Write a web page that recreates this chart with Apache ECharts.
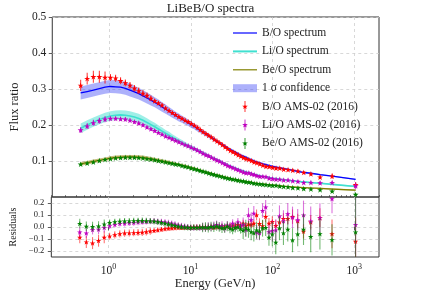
<!DOCTYPE html>
<html><head><meta charset="utf-8">
<script src="https://cdn.jsdelivr.net/npm/echarts@6/dist/echarts.min.js"></script>
<style>html,body{margin:0;padding:0;background:#fff}#c{width:421px;height:295px}</style>
</head><body><div id="c"></div>
<script>
// Energy (GeV/n) of the AMS-02 bins
const energy = [0.445,0.535,0.637,0.754,0.885,1.030,1.192,1.371,1.569,1.788,
  2.028,2.290,2.576,2.887,3.225,3.591,3.987,4.415,4.883,5.377,
  5.897,6.466,7.086,7.756,8.476,9.246,10.07,10.97,11.94,12.96,
  14.05,15.23,16.48,17.82,19.27,20.82,22.46,24.24,26.13,28.16,
  30.33,32.68,35.20,37.89,40.80,43.93,47.30,51.04,55.04,59.29,
  64.03,69.51,75.76,82.74,90.72,99.7,109.9,121.9,136.3,154.0,
  175.9,203.5,239.6,293.4,380.1,533.9,1034.7];

// B/O
const boData = [0.310,0.329,0.334,0.334,0.332,0.332,0.330,0.323,0.317,0.310,
  0.302,0.295,0.288,0.282,0.274,0.267,0.261,0.255,0.247,0.240,
  0.234,0.229,0.223,0.218,0.213,0.209,0.204,0.199,0.193,0.187,
  0.181,0.176,0.171,0.166,0.160,0.155,0.150,0.145,0.139,0.134,
  0.129,0.125,0.121,0.117,0.113,0.109,0.106,0.104,0.101,0.097,
  0.095,0.092,0.088,0.085,0.084,0.082,0.080,0.080,0.077,0.076,
  0.074,0.072,0.068,0.064,0.055,0.058,0.034];
const boModel = [0.289,0.293,0.297,0.301,0.305,0.307,0.306,0.305,0.302,0.297,
  0.292,0.287,0.281,0.275,0.269,0.263,0.257,0.250,0.244,0.238,
  0.232,0.226,0.221,0.216,0.211,0.206,0.201,0.196,0.190,0.185,
  0.180,0.175,0.170,0.165,0.160,0.155,0.150,0.145,0.141,0.136,
  0.132,0.128,0.124,0.120,0.116,0.113,0.110,0.106,0.103,0.100,
  0.097,0.095,0.092,0.090,0.087,0.085,0.083,0.081,0.079,0.077,
  0.074,0.071,0.068,0.066,0.062,0.058,0.049];
const boSigma = [0.018,0.018,0.018,0.018,0.018,0.018,0.018,0.018,0.018,0.018,
  0.017,0.016,0.016,0.015,0.015,0.014,0.014,0.013,0.013,0.012,
  0.012,0.011,0.011,0.010,0.010,0.009,0.009,0.008,0.008,0.007,
  0.007,0.007,0.006,0.006,0.006,0.005,0.005,0.005,0.005,0.004,
  0.004,0.004,0.004,0.004,0.004,0.004,0.004,0.004,0.004,0.004,
  0.003,0.003,0.003,0.003,0.003,0.003,0.003,0.003,0.003,0.003,
  0.003,0.003,0.002,0.002,0.002,0.002,0.002];
const boRes = [-0.086,-0.125,-0.134,-0.114,-0.086,-0.077,-0.065,-0.057,-0.051,-0.050,
  -0.048,-0.046,-0.044,-0.040,-0.035,-0.030,-0.025,-0.020,-0.015,-0.012,
  -0.010,-0.008,-0.006,-0.005,-0.004,-0.003,-0.004,-0.002,0.000,-0.002,
  0.001,-0.003,0.000,0.002,-0.004,0.003,0.000,0.005,-0.003,0.010,
  0.004,0.015,0.008,0.020,0.012,0.030,0.010,0.025,0.020,0.030,
  0.100,0.028,0.010,0.086,0.030,0.045,0.012,0.040,0.070,0.070,
  0.086,0.050,-0.037,0.040,0.077,-0.057,-0.120];
const boRelErr = [0.05,0.05,0.05,0.05,0.05,0.03,0.03,0.03,0.03,0.03,
  0.03,0.03,0.03,0.03,0.03,0.02,0.02,0.02,0.02,0.02,
  0.02,0.02,0.02,0.02,0.02,0.02,0.02,0.02,0.02,0.02,
  0.02,0.02,0.02,0.02,0.02,0.02,0.02,0.02,0.02,0.02,
  0.03,0.03,0.03,0.03,0.03,0.03,0.03,0.03,0.03,0.03,
  0.045,0.045,0.045,0.045,0.045,0.045,0.045,0.045,0.045,0.045,
  0.06,0.06,0.06,0.06,0.08,0.12,0.2];

// Li/O
const liData = [0.186,0.197,0.206,0.212,0.216,0.218,0.218,0.217,0.216,0.213,
  0.209,0.205,0.200,0.194,0.189,0.184,0.179,0.174,0.169,0.165,
  0.161,0.157,0.153,0.149,0.145,0.142,0.138,0.134,0.130,0.126,
  0.121,0.117,0.114,0.110,0.106,0.102,0.099,0.095,0.091,0.087,
  0.084,0.081,0.078,0.075,0.072,0.069,0.067,0.067,0.064,0.062,
  0.059,0.057,0.057,0.056,0.052,0.051,0.049,0.049,0.047,0.047,
  0.045,0.043,0.040,0.040,0.039,0.040,0.031];
const liModel = [0.191,0.200,0.208,0.215,0.221,0.225,0.227,0.228,0.227,0.225,
  0.222,0.218,0.213,0.207,0.201,0.195,0.189,0.183,0.177,0.172,
  0.166,0.161,0.156,0.151,0.146,0.142,0.138,0.134,0.130,0.126,
  0.122,0.118,0.114,0.110,0.107,0.103,0.100,0.096,0.093,0.089,
  0.086,0.083,0.080,0.077,0.074,0.072,0.069,0.067,0.065,0.063,
  0.061,0.059,0.057,0.056,0.054,0.052,0.051,0.049,0.048,0.046,
  0.045,0.043,0.042,0.040,0.038,0.035,0.029];
const liSigma = [0.013,0.013,0.013,0.013,0.013,0.013,0.013,0.013,0.013,0.013,
  0.013,0.013,0.012,0.012,0.011,0.011,0.010,0.010,0.009,0.009,
  0.008,0.008,0.007,0.007,0.007,0.006,0.006,0.006,0.005,0.005,
  0.005,0.005,0.004,0.004,0.004,0.004,0.004,0.003,0.003,0.003,
  0.003,0.003,0.003,0.003,0.003,0.003,0.003,0.003,0.003,0.003,
  0.002,0.002,0.002,0.002,0.002,0.002,0.002,0.002,0.002,0.002,
  0.002,0.002,0.002,0.002,0.002,0.002,0.002];
const liRes = [-0.043,-0.051,-0.022,-0.019,-0.005,0.009,0.020,0.029,0.030,0.034,
  0.036,0.040,0.043,0.045,0.048,0.050,0.046,0.044,0.040,0.035,
  0.030,0.022,0.015,0.010,0.005,0.000,-0.004,-0.006,-0.002,-0.006,
  0.000,-0.004,0.004,0.000,0.010,0.020,0.005,0.012,-0.010,0.015,
  0.005,0.030,0.000,0.040,0.010,0.020,-0.022,0.100,0.060,0.114,
  -0.043,-0.050,0.137,0.166,-0.040,-0.030,-0.025,0.090,0.050,0.109,
  0.080,0.060,0.100,0.050,0.077,0.235,0.020];
const liRelErr = [0.04,0.04,0.04,0.04,0.04,0.025,0.025,0.025,0.025,0.025,
  0.025,0.025,0.025,0.025,0.025,0.025,0.025,0.025,0.025,0.025,
  0.025,0.025,0.025,0.025,0.025,0.025,0.025,0.025,0.025,0.025,
  0.035,0.035,0.035,0.035,0.035,0.035,0.035,0.035,0.035,0.035,
  0.035,0.035,0.035,0.035,0.035,0.06,0.06,0.06,0.06,0.06,
  0.06,0.06,0.06,0.06,0.06,0.09,0.09,0.09,0.09,0.09,
  0.09,0.09,0.12,0.12,0.12,0.12,0.3];

// Be/O
const beData = [0.091,0.094,0.097,0.101,0.104,0.106,0.108,0.109,0.110,0.110,
  0.110,0.109,0.108,0.106,0.105,0.103,0.101,0.099,0.097,0.095,
  0.093,0.091,0.090,0.087,0.085,0.083,0.080,0.078,0.076,0.073,
  0.071,0.069,0.066,0.064,0.062,0.060,0.058,0.056,0.054,0.052,
  0.051,0.049,0.048,0.046,0.045,0.044,0.042,0.041,0.040,0.038,
  0.037,0.036,0.035,0.034,0.033,0.032,0.032,0.030,0.029,0.028,
  0.026,0.025,0.023,0.022,0.020,0.016,0.007];
const beModel = [0.092,0.095,0.099,0.102,0.105,0.108,0.110,0.111,0.112,0.112,
  0.112,0.111,0.110,0.108,0.106,0.104,0.102,0.100,0.098,0.096,
  0.094,0.092,0.090,0.088,0.086,0.083,0.081,0.079,0.076,0.074,
  0.072,0.069,0.067,0.065,0.063,0.061,0.059,0.057,0.055,0.053,
  0.052,0.050,0.049,0.047,0.046,0.044,0.043,0.042,0.041,0.039,
  0.038,0.037,0.036,0.035,0.034,0.033,0.032,0.031,0.030,0.029,
  0.028,0.027,0.026,0.025,0.024,0.022,0.019];
const beSigma = [0.005,0.005,0.005,0.005,0.005,0.005,0.005,0.005,0.005,0.005,
  0.005,0.005,0.005,0.005,0.005,0.005,0.005,0.005,0.005,0.005,
  0.004,0.004,0.004,0.004,0.004,0.004,0.004,0.004,0.004,0.004,
  0.003,0.003,0.003,0.003,0.003,0.003,0.003,0.003,0.003,0.003,
  0.002,0.002,0.002,0.002,0.002,0.002,0.002,0.002,0.002,0.002,
  0.002,0.002,0.002,0.002,0.002,0.002,0.002,0.002,0.002,0.002,
  0.002,0.002,0.002,0.002,0.002,0.002,0.002];
const beRes = [0.029,0.006,0.004,0.008,0.023,0.037,0.043,0.047,0.049,0.050,
  0.052,0.053,0.054,0.052,0.050,0.046,0.042,0.036,0.030,0.024,
  0.018,0.012,0.006,0.002,-0.002,-0.004,-0.005,-0.003,-0.006,-0.002,
  -0.004,0.000,-0.005,0.003,-0.002,0.008,0.000,-0.010,-0.008,0.005,
  -0.012,-0.020,-0.005,0.000,-0.015,-0.029,-0.010,-0.020,-0.040,-0.050,
  -0.025,-0.035,-0.010,-0.005,-0.086,-0.060,-0.128,-0.010,-0.050,-0.020,
  -0.110,-0.060,-0.020,-0.080,-0.057,-0.108,-0.043];
const beRelErr = [0.04,0.04,0.04,0.04,0.04,0.025,0.025,0.025,0.025,0.025,
  0.025,0.025,0.025,0.025,0.025,0.025,0.025,0.025,0.025,0.025,
  0.025,0.025,0.025,0.025,0.025,0.025,0.025,0.025,0.025,0.025,
  0.04,0.04,0.04,0.04,0.04,0.04,0.04,0.04,0.04,0.04,
  0.04,0.04,0.04,0.04,0.04,0.07,0.07,0.07,0.07,0.07,
  0.07,0.07,0.07,0.07,0.07,0.1,0.1,0.1,0.1,0.1,
  0.1,0.1,0.13,0.13,0.13,0.13,0.5];

const xMajorTicks = [1, 10, 100, 1000];
const yMainTicks = [0.1, 0.2, 0.3, 0.4, 0.5];
const yResTicks = [-0.2, -0.1, 0, 0.1, 0.2];

const FONT = "'Liberation Serif','DejaVu Serif',serif";
const TXT = '#222';
const STAR = 'M0,-10 L2.23,-3.07 L9.51,-3.09 L3.61,1.17 L5.88,8.09 L0,3.8 L-5.88,8.09 L-3.61,1.17 L-9.51,-3.09 L-2.23,-3.07 Z';
const ANCH = ' M0,0 L0,0 M24,12 L24,12';
const ICON_LINE = 'path://M0,5.4 L24,5.4 L24,6.6 L0,6.6 Z' + ANCH;
const ICON_THICK = 'path://M0,5 L24,5 L24,7 L0,7 Z' + ANCH;
const ICON_PATCH = 'path://M0,2 L24,2 L24,10 L0,10 Z' + ANCH;
const ICON_ERR = 'path://M12,3 L12.705,5.029 L14.853,5.073 L13.141,6.371 L13.763,8.427 L12,7.2 L10.237,8.427 L10.859,6.371 L9.147,5.073 L11.295,5.029 Z M11.6,0.5 L12.4,0.5 L12.4,11.5 L11.6,11.5 Z' + ANCH;

const minorTicks = [];
[0.1, 1, 10, 100, 1000].forEach(d => { for (let k = 2; k <= 9; k++) { const v = +(d * k).toPrecision(3); if (v >= 0.2 && v <= 2000) minorTicks.push(v); } });

function bandSeries(name, model, sigma, fill) {
  return {
    type: 'custom', name, xAxisIndex: 0, yAxisIndex: 0, clip: true, z: 1,
    itemStyle: { color: fill },
    data: energy.map((e, i) => [e, model[i] - sigma[i], model[i] + sigma[i]]),
    encode: { x: 0, y: [1, 2] },
    renderItem(params, api) {
      if (params.dataIndex !== 0) return null;
      const pts = [];
      for (let i = 0; i < energy.length; i++) pts.push(api.coord([energy[i], model[i] + sigma[i]]));
      for (let i = energy.length - 1; i >= 0; i--) pts.push(api.coord([energy[i], model[i] - sigma[i]]));
      return { type: 'polygon', shape: { points: pts }, style: { fill } };
    }
  };
}
function lineSeries(name, model, color, width) {
  return {
    type: 'custom', name, xAxisIndex: 0, yAxisIndex: 0, clip: true, z: 2,
    itemStyle: { color },
    data: energy.map((e, i) => [e, model[i]]),
    encode: { x: 0, y: 1 },
    renderItem(params, api) {
      if (params.dataIndex !== 0) return null;
      const pts = energy.map((e, i) => api.coord([e, model[i]]));
      return { type: 'polyline', shape: { points: pts }, style: { stroke: color, lineWidth: width, fill: null } };
    }
  };
}
function errSeries(name, axis, vals, errs, color, barColor, size) {
  return {
    type: 'custom', name, xAxisIndex: axis, yAxisIndex: axis, clip: true, z: 3,
    itemStyle: { color },
    data: energy.map((e, i) => [e, vals[i], errs[i]]),
    encode: { x: 0, y: 1 },
    renderItem(params, api) {
      const x = api.value(0), y = api.value(1), e = api.value(2);
      const p = api.coord([x, y]), t = api.coord([x, y + e]), b = api.coord([x, y - e]);
      return { type: 'group', children: [
        { type: 'line', shape: { x1: p[0], y1: t[1], x2: p[0], y2: b[1] }, style: { stroke: barColor, lineWidth: 1.1 } },
        { type: 'path', shape: { pathData: STAR, layout: 'center', x: p[0] - size / 2, y: p[1] - size / 2, width: size, height: size }, style: { fill: color } }
      ] };
    }
  };
}

const boErr = boData.map((v, i) => v * boRelErr[i]);
const liErr = liData.map((v, i) => v * liRelErr[i]);
const beErr = beData.map((v, i) => v * beRelErr[i]);

const C_RED = '#ff0000', C_MAG = '#c000c0', C_GRN = '#008000';
const gridLine = { show: true, lineStyle: { color: '#cfcfcf', type: [3, 3], width: 0.8 } };
const tickStyle = { color: '#333', width: 0.8 };

function xAxisMain(grid, labels) {
  return {
    gridIndex: grid, type: 'log', logBase: 10, min: 0.2, max: 2000,
    axisLine: { show: false },
    axisTick: { show: labels, length: 3.5, customValues: xMajorTicks, lineStyle: tickStyle },
    axisLabel: { show: labels, customValues: xMajorTicks, margin: 6,
      formatter: v => '{b|10}{s|' + Math.round(Math.log10(v)) + '}',
      rich: { b: { fontSize: 11.5, fontFamily: FONT, color: TXT },
              s: { fontSize: 8, fontFamily: FONT, color: TXT, padding: [0, 0, 7, 0] } } },
    splitLine: gridLine,
    name: labels ? 'Energy (GeV/n)' : '', nameLocation: 'middle', nameGap: 18,
    nameTextStyle: { fontSize: 12.5, fontFamily: FONT, color: TXT }
  };
}
function xAxisMinor(grid) {
  return {
    gridIndex: grid, type: 'log', logBase: 10, min: 0.2, max: 2000,
    axisLine: { show: false }, axisLabel: { show: false }, splitLine: { show: false },
    axisTick: { show: grid === 1, length: 2, customValues: minorTicks, lineStyle: { color: '#333', width: 0.6 } }
  };
}

const option = {
  animation: false,
  backgroundColor: '#fff',
  title: { text: 'LiBeB/O spectra', left: 'center', top: 2, padding: 0,
    textStyle: { fontSize: 13, fontWeight: 'normal', fontFamily: FONT, color: TXT } },
  legend: {
    orient: 'vertical', left: 233, top: 27, padding: 0, itemWidth: 24, itemHeight: 12, itemGap: 6.4,
    selectedMode: false,
    textStyle: { fontSize: 11.5, fontFamily: FONT, color: TXT },
    data: [
      { name: 'B/O spectrum', icon: ICON_LINE, itemStyle: { color: '#0000ff' } },
      { name: 'Li/O spectrum', icon: ICON_THICK, itemStyle: { color: '#40e0d0' } },
      { name: 'Be/O spectrum', icon: ICON_LINE, itemStyle: { color: '#808000' } },
      { name: '1 σ confidence', icon: ICON_PATCH, itemStyle: { color: 'rgba(60,70,245,0.42)' } },
      { name: 'B/O AMS-02 (2016)', icon: ICON_ERR, itemStyle: { color: C_RED } },
      { name: 'Li/O AMS-02 (2016)', icon: ICON_ERR, itemStyle: { color: C_MAG } },
      { name: 'Be/O AMS-02 (2016)', icon: ICON_ERR, itemStyle: { color: C_GRN } }
    ]
  },
  grid: [
    { left: 42, top: 17, width: 337, height: 180, show: true, borderColor: '#333', borderWidth: 1, backgroundColor: 'transparent' },
    { left: 42, top: 197, width: 337, height: 60, show: true, borderColor: '#333', borderWidth: 1, backgroundColor: 'transparent' }
  ],
  xAxis: [xAxisMain(0, false), xAxisMain(1, true), xAxisMinor(0), xAxisMinor(1)],
  yAxis: [
    { gridIndex: 0, type: 'value', min: 0, max: 0.5,
      axisLine: { show: false },
      axisTick: { show: true, length: 3.5, customValues: yMainTicks, lineStyle: tickStyle },
      axisLabel: { customValues: yMainTicks, margin: 6, formatter: v => v.toFixed(1), fontSize: 11.5, fontFamily: FONT, color: TXT },
      splitLine: gridLine,
      name: 'Flux ratio', nameLocation: 'middle', nameGap: 25,
      nameTextStyle: { fontSize: 12.5, fontFamily: FONT, color: TXT } },
    { gridIndex: 1, type: 'value', min: -0.25, max: 0.25,
      axisLine: { show: false },
      axisTick: { show: true, length: 3.5, customValues: yResTicks, lineStyle: tickStyle },
      axisLabel: { customValues: yResTicks, margin: 7, fontSize: 8.5, fontFamily: FONT, color: TXT,
        formatter: v => (v < -1e-9 ? '\u2212' : '') + Math.abs(v).toFixed(1) },
      splitLine: gridLine,
      name: 'Residuals', nameLocation: 'middle', nameGap: 25,
      nameTextStyle: { fontSize: 10, fontFamily: FONT, color: TXT } }
  ],
  series: [
    bandSeries('1 σ confidence', boModel, boSigma, 'rgba(60,70,245,0.42)'),
    bandSeries('Li/O band', liModel, liSigma, 'rgba(64,224,208,0.5)'),
    bandSeries('Be/O band', beModel, beSigma, 'rgba(140,125,0,0.5)'),
    lineSeries('B/O spectrum', boModel, '#0000ff', 1.3),
    lineSeries('Li/O spectrum', liModel, '#40e0d0', 1.6),
    lineSeries('Be/O spectrum', beModel, '#808000', 1.1),
    errSeries('B/O AMS-02 (2016)', 0, boData, boErr, C_RED, 'rgba(255,0,0,0.75)', 6),
    errSeries('Li/O AMS-02 (2016)', 0, liData, liErr, C_MAG, 'rgba(192,0,192,0.75)', 6),
    errSeries('Be/O AMS-02 (2016)', 0, beData, beErr, C_GRN, 'rgba(0,128,0,0.75)', 6),
    errSeries('B/O res', 1, boRes, boRelErr, C_RED, 'rgba(255,0,0,0.55)', 5.5),
    errSeries('Li/O res', 1, liRes, liRelErr, C_MAG, 'rgba(192,0,192,0.55)', 5.5),
    errSeries('Be/O res', 1, beRes, beRelErr, C_GRN, 'rgba(0,128,0,0.55)', 5.5)
  ]
};
const chart = echarts.init(document.getElementById('c'), null, { renderer: 'canvas' });
chart.setOption(option);
</script>
</body></html>
